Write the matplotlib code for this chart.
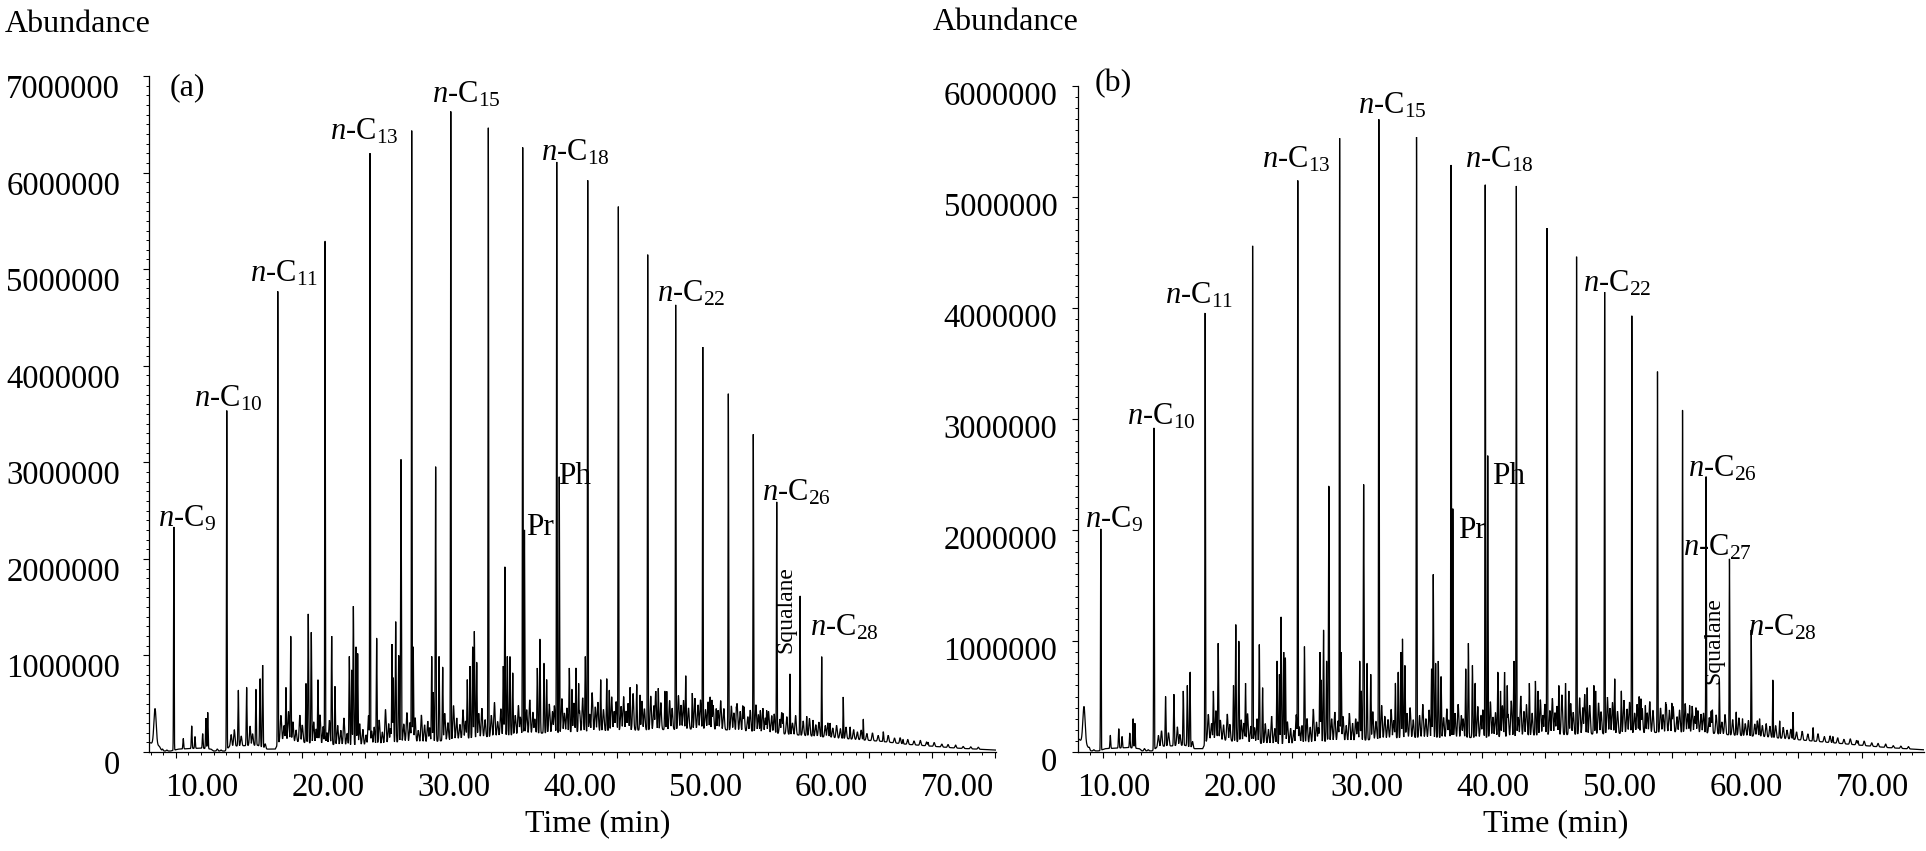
import numpy as np
import matplotlib
matplotlib.use("Agg")
import matplotlib.pyplot as plt
from matplotlib.ticker import MultipleLocator, NullFormatter
from matplotlib.transforms import ScaledTranslation, blended_transform_factory

W, H, DPI = 1926, 851, 100

plt.rcParams['font.family'] = ['Liberation Serif', 'DejaVu Serif']
plt.rcParams['mathtext.fontset'] = 'custom'
plt.rcParams['mathtext.rm'] = 'Liberation Serif'
plt.rcParams['mathtext.it'] = 'Liberation Serif:italic'

# ------------------------------------------------------------------ data
# retention times in minutes, abundances in millions
peak_names = ['C9', 'C10', 'C11', 'C12', 'C13', 'C14', 'C15', 'C16', 'C17', 'Pr',
              'C18', 'Ph', 'C19', 'C20', 'C21', 'C22', 'C23', 'C24', 'C25', 'C26',
              'Squalane', 'C27', 'C28', 'C29', 'C30']
peak_times = [9.85, 14.05, 18.10, 21.85, 25.42, 28.73, 31.83, 34.81, 37.54, 37.68,
              40.24, 40.44, 42.70, 45.13, 47.46, 49.68, 51.83, 53.86, 55.84, 57.70,
              58.75, 59.55, 61.27, 62.98, 64.57]
peak_height_a = [2.34, 3.55, 4.77, 5.31, 6.20, 6.46, 6.66, 6.49, 6.26, 2.30,
                 6.11, 2.85, 5.92, 5.67, 5.15, 4.63, 4.21, 3.71, 3.29, 2.59,
                 0.81, 1.62, 0.99, 0.57, 0.34]
peak_height_b = [2.01, 2.92, 3.97, 4.56, 5.17, 5.53, 5.70, 5.54, 5.31, 2.20,
                 5.13, 2.68, 5.12, 4.72, 4.48, 4.16, 3.93, 3.44, 3.09, 2.49,
                 0.66, 1.74, 1.10, 0.65, 0.36]

# solvent tail at the start
solvent_time_a = [8.36]
solvent_time_b = [8.52]
solvent_height_a = [0.45]
solvent_height_b = [0.41]

# other resolved peaks (absolute tops)
minor_times = [10.6, 11.27, 11.53, 12.14, 12.40, 12.54,
               14.97, 15.63, 16.37, 16.69, 16.90,
               18.75, 19.13, 20.34, 20.52, 20.76, 21.29,
               22.38, 22.64, 23.78, 23.97, 24.10, 24.31, 24.44,
               25.95, 27.17, 27.27, 27.46, 27.70, 27.88,
               28.85, 30.32, 30.44, 30.63, 30.90, 31.19,
               33.14, 33.36, 33.57, 33.70, 33.89,
               36.00, 36.13, 36.32, 36.53, 36.75,
               38.70, 38.91, 39.23, 39.44,
               41.24, 41.45, 41.77, 41.98, 42.51,
               43.73, 44.21, 44.41, 46.06, 46.59, 46.85,
               48.30, 48.83, 48.97, 50.48, 51.00, 52.41,
               52.55, 52.90, 54.50, 55.00, 56.40, 56.90, 58.20,
               60.08, 60.58, 61.93, 63.52, 66.16, 67.72, 69.71]
minor_height_a = [0.14, 0.27, 0.16, 0.19, 0.35, 0.41,
                  0.64, 0.67, 0.65, 0.76, 0.90,
                  0.67, 1.20, 0.71, 1.43, 1.24, 0.75,
                  1.20, 0.68, 0.99, 0.85, 1.51, 1.09, 1.02,
                  1.18, 1.12, 0.77, 1.35, 1.00, 3.03,
                  1.09, 0.99, 0.62, 2.96, 0.99, 0.88,
                  0.75, 0.89, 1.09, 1.25, 0.93,
                  0.89, 1.92, 0.99, 0.99, 0.82,
                  0.87, 1.17, 0.92, 0.75,
                  0.87, 0.65, 0.87, 0.71, 0.99,
                  0.75, 0.76, 0.64, 0.67, 0.70, 0.59,
                  0.66, 0.63, 0.63, 0.79, 0.61, 0.57,
                  0.54, 0.45, 0.47, 0.48, 0.43, 0.43, 0.40,
                  0.37, 0.33, 0.30, 0.26, 0.21, 0.13, 0.10]
minor_height_b = [0.15, 0.21, 0.14, 0.17, 0.30, 0.26,
                  0.50, 0.52, 0.55, 0.60, 0.72,
                  0.55, 0.98, 0.60, 1.15, 1.00, 0.62,
                  0.97, 0.58, 0.82, 0.70, 1.22, 0.90, 0.85,
                  0.95, 0.90, 0.65, 1.10, 0.82, 2.40,
                  0.90, 0.82, 0.55, 2.41, 0.80, 0.70,
                  0.62, 0.72, 0.90, 1.02, 0.78,
                  0.75, 1.60, 0.80, 0.82, 0.68,
                  0.75, 0.98, 0.78, 0.62,
                  0.72, 0.55, 0.72, 0.60, 0.82,
                  0.62, 0.64, 0.55, 0.60, 0.62, 0.55,
                  0.58, 0.60, 0.55, 0.66, 0.55, 0.50,
                  0.48, 0.42, 0.45, 0.44, 0.42, 0.40, 0.38,
                  0.36, 0.30, 0.30, 0.28, 0.22, 0.14, 0.10]

# small unresolved peaks (height above the baseline)
grass_times = [14.4, 14.65, 15.2, 15.9, 16.1, 17.1, 18.35, 18.6, 18.95, 19.3,
               19.55, 19.85, 20.05, 20.95, 21.15, 21.45, 21.7, 22.0, 22.2, 22.85,
               23.1, 23.35, 23.6, 24.6, 24.85, 25.1, 25.3, 25.55, 25.75, 26.15,
               26.4, 26.65, 26.9, 27.05, 28.1, 28.35, 28.6, 29.0, 29.25, 29.5,
               29.75, 30.0, 30.15, 31.35, 31.6, 32.05, 32.3, 32.55, 32.8, 33.0,
               34.05, 34.3, 34.55, 35.05, 35.3, 35.55, 35.8, 36.95, 37.2, 37.35,
               37.85, 38.1, 38.35, 38.5, 39.65, 39.9, 40.05, 40.65, 40.85, 41.05,
               41.6, 42.05, 42.3, 42.85, 43.05, 43.3, 43.5, 43.95, 44.6, 44.8,
               44.95, 45.35, 45.55, 45.75, 45.9, 46.3, 47.0, 47.2, 47.7, 47.95,
               48.1, 48.5, 49.2, 49.4, 49.9, 50.1, 50.3, 50.7, 51.2, 51.45,
               51.65, 52.05, 52.25, 52.65, 53.05, 53.25, 53.5, 54.1, 54.3, 54.55,
               54.8, 55.1, 55.4, 55.6, 56.05, 56.25, 56.6, 56.8, 57.05, 57.3,
               57.5, 57.95, 58.1, 58.5, 58.95, 59.2, 59.8, 60.3, 60.8, 61.05,
               61.55, 61.75, 62.15, 62.45, 62.75, 63.2, 63.8, 64.1, 64.4, 64.85,
               65.3, 65.75, 66.55, 67.05, 67.5, 68.1, 68.6, 69.1, 69.6, 70.2,
               70.8, 71.3, 71.9, 72.5, 73.1, 73.7, 8.95, 9.3, 13.3, 13.6]
grass_amp_a = [.12, .17, .10, .20, .12, .05, .25, .15, .30, .20,
               .12, .28, .18, .22, .15, .30, .18, .12, .25, .20,
               .15, .28, .12, .22, .16, .10, .30, .14, .18, .25,
               .12, .35, .20, .15, .18, .30, .20, .25, .12, .28,
               .18, .22, .15, .28, .18, .35, .22, .15, .30, .18,
               .25, .30, .18, .22, .35, .15, .28, .20, .30, .18,
               .25, .35, .22, .15, .30, .22, .28, .35, .20, .25,
               .30, .22, .35, .18, .40, .25, .30, .22, .35, .20,
               .30, .25, .35, .20, .28, .38, .30, .22, .35, .25,
               .40, .28, .30, .22, .35, .25, .30, .22, .32, .25,
               .30, .20, .28, .25, .20, .30, .22, .25, .18, .28,
               .20, .25, .15, .22, .28, .18, .25, .15, .22, .18,
               .20, .15, .22, .18, .12, .20, .15, .18, .12, .15,
               .12, .15, .10, .13, .10, .12, .10, .08, .10, .07,
               .08, .06, .07, .05, .06, .05, .04, .05, .04, .04,
               .03, .03, .03, .02, .02, .02, .02, .01, .02, .01]
grass_amp_b = [.10, .14, .12, .17, .10, .06, .22, .14, .26, .18,
               .14, .24, .15, .20, .17, .26, .15, .14, .22, .18,
               .13, .25, .14, .20, .14, .12, .26, .15, .16, .22,
               .14, .30, .18, .13, .20, .26, .18, .22, .14, .25,
               .16, .20, .17, .25, .16, .30, .20, .17, .26, .16,
               .22, .27, .16, .20, .30, .17, .25, .18, .26, .16,
               .22, .30, .20, .17, .28, .20, .25, .32, .18, .22,
               .28, .20, .32, .17, .36, .22, .28, .20, .32, .18,
               .28, .22, .33, .20, .26, .36, .28, .20, .33, .24,
               .36, .26, .28, .20, .33, .23, .28, .20, .30, .22,
               .28, .18, .26, .22, .18, .28, .20, .22, .16, .25,
               .20, .23, .14, .20, .26, .17, .24, .15, .20, .17,
               .18, .14, .20, .17, .11, .18, .14, .16, .11, .14,
               .11, .14, .10, .12, .10, .11, .10, .08, .09, .07,
               .08, .06, .07, .05, .06, .05, .04, .05, .04, .04,
               .03, .03, .03, .02, .02, .02, .02, .01, .02, .01]

# baseline (unresolved hump)
base_time_a = [7.88, 8.7, 8.9, 9.6, 10.2, 12.0, 12.8, 13.0, 13.9, 14.3, 16.5, 17.2, 17.9,
               18.3, 20, 22, 24, 26, 28, 30, 32, 34, 36, 38, 40, 44, 48, 52, 55, 58,
               60, 62, 64, 66, 68, 70, 72, 75.1]
base_level_a = [0.10, 0.06, 0.01, 0.01, 0.03, 0.04, 0.03, 0.01, 0.01, 0.06, 0.07, 0.03, 0.03,
                0.13, 0.10, 0.08, 0.07, 0.08, 0.11, 0.10, 0.13, 0.15, 0.17, 0.19, 0.20, 0.22,
                0.23, 0.24, 0.22, 0.19, 0.17, 0.15, 0.13, 0.11, 0.08, 0.06, 0.04, 0.02]
base_time_b = [8.07, 8.8, 9.0, 9.7, 10.2, 12.0, 12.9, 13.1, 13.9, 14.4, 16.5, 17.2, 17.9,
               18.3, 20, 22, 24, 26, 28, 30, 32, 34, 36, 38, 40, 44, 48, 52, 55, 58,
               60, 62, 64, 66, 68, 70, 72, 74.9]
base_level_b = [0.12, 0.05, 0.01, 0.01, 0.03, 0.04, 0.03, 0.01, 0.01, 0.05, 0.06, 0.03, 0.03,
                0.12, 0.10, 0.08, 0.07, 0.08, 0.10, 0.10, 0.12, 0.13, 0.13, 0.13, 0.13, 0.15,
                0.16, 0.17, 0.18, 0.17, 0.15, 0.14, 0.12, 0.10, 0.08, 0.06, 0.04, 0.02]

time_ticks = [10, 20, 30, 40, 50, 60, 70]

# peak annotations: (text, time of left edge, baseline abundance in millions)
labels_a = [(r'$\mathit{n}$-C$_{9}$', 8.62, 2.33), (r'$\mathit{n}$-C$_{10}$', 11.43, 3.58),
            (r'$\mathit{n}$-C$_{11}$', 15.9, 4.87), (r'$\mathit{n}$-C$_{13}$', 22.25, 6.34),
            (r'$\mathit{n}$-C$_{15}$', 30.32, 6.73), (r'$\mathit{n}$-C$_{18}$', 39.0, 6.13),
            (r'$\mathit{n}$-C$_{22}$', 48.2, 4.66), (r'$\mathit{n}$-C$_{26}$', 56.5, 2.60),
            (r'$\mathit{n}$-C$_{28}$', 60.35, 1.21)]
labels_b = [(r'$\mathit{n}$-C$_{9}$', 8.6, 2.02), (r'$\mathit{n}$-C$_{10}$', 11.93, 2.95),
            (r'$\mathit{n}$-C$_{11}$', 14.9, 4.04), (r'$\mathit{n}$-C$_{13}$', 22.57, 5.27),
            (r'$\mathit{n}$-C$_{15}$', 30.2, 5.75), (r'$\mathit{n}$-C$_{18}$', 38.64, 5.27),
            (r'$\mathit{n}$-C$_{22}$', 48.0, 4.15), (r'$\mathit{n}$-C$_{26}$', 56.24, 2.48),
            (r'$\mathit{n}$-C$_{27}$', 55.85, 1.77), (r'$\mathit{n}$-C$_{28}$', 61.0, 1.05)]
iso_labels_a = [('Pr', 37.78, 2.25), ('Ph', 40.36, 2.78)]
iso_labels_b = [('Pr', 38.06, 1.93), ('Ph', 40.78, 2.41)]
squalane_a = (58.42, 1.48)
squalane_b = (58.3, 1.00)


# ------------------------------------------------------------------ drawing
def chromatogram(t, btime, blevel, groups):
    base = np.interp(t, btime, blevel)
    y = base.copy()
    for times, heights, sigma, absolute in groups:
        for tc, h in zip(times, heights):
            amp = h - np.interp(tc, btime, blevel) if absolute else h
            y = np.maximum(y, base + amp * np.exp(-0.5 * ((t - tc) / sigma) ** 2))
    return y * 1e6


fig = plt.figure(figsize=(W / DPI, H / DPI), dpi=DPI)


def px(x, y):
    return x / W, 1 - y / H


def panel(rect, xlim, ymax, btime, blevel, peaks, solvent_t, solvent_h, minor, grass,
          xlab_dx, ylab_gap, ylab_dy, labels, iso, squal, tag, tag_xy, abund_xy, time_xy):
    ax = fig.add_axes(rect)
    t = np.arange(xlim[0], xlim[1], 0.004)
    y = chromatogram(t, btime, blevel, [
        (solvent_t, solvent_h, 0.09, True),
        (grass_times, grass, 0.05, False),
        (minor_times, minor, 0.03, True),
        (peak_times, peaks, 0.022, True),
    ])
    ax.plot(t, y, color='black', lw=0.9, solid_joinstyle='miter')
    ax.set_xlim(*xlim)
    ax.set_ylim(0, ymax)
    for s in ('top', 'right'):
        ax.spines[s].set_visible(False)
    for s in ('left', 'bottom'):
        ax.spines[s].set_linewidth(0.9)
    ax.xaxis.set_major_locator(MultipleLocator(5))
    ax.xaxis.set_minor_locator(MultipleLocator(1))
    ax.yaxis.set_major_locator(MultipleLocator(1e6))
    ax.yaxis.set_minor_locator(MultipleLocator(1e5))
    ax.tick_params(which='major', length=4.5, width=0.8, labelbottom=False, labelleft=False)
    ax.tick_params(which='minor', length=2.3, width=0.7)
    ax.xaxis.set_minor_formatter(NullFormatter())

    trx = blended_transform_factory(ax.transData, ax.transAxes) + \
        ScaledTranslation(xlab_dx / DPI, -44 / DPI, fig.dpi_scale_trans)
    for v in time_ticks:
        ax.text(v, 0, f'{v:.2f}', transform=trx, ha='center', va='baseline',
                fontsize=23.5, clip_on=False)
    try_ = blended_transform_factory(ax.transAxes, ax.transData) + \
        ScaledTranslation(-ylab_gap / DPI, -ylab_dy / DPI, fig.dpi_scale_trans)
    for v in np.arange(0, ymax + 1, 1e6):
        ax.text(0, v, f'{int(v)}', transform=try_, ha='right', va='baseline',
                fontsize=23.5, clip_on=False)

    for txt, tx, ty in labels:
        ax.text(tx, ty * 1e6, txt, ha='left', va='baseline', fontsize=22)
    for txt, tx, ty in iso:
        ax.text(tx, ty * 1e6, txt, ha='left', va='baseline', fontsize=22.5)
    ax.text(squal[0], squal[1] * 1e6, 'Squalane', rotation=90, ha='center', va='center',
            fontsize=17)

    fig.text(*px(*tag_xy), tag, ha='left', va='center', fontsize=23)
    fig.text(*px(*abund_xy), 'Abundance', ha='left', va='baseline', fontsize=23)
    fig.text(*px(*time_xy), 'Time (min)', ha='center', va='center', fontsize=23)
    return ax


panel([149 / W, 99 / H, (995.7 - 149) / W, (752 - 76) / H], (7.88, 75.08), 7e6,
      base_time_a, base_level_a, peak_height_a, solvent_time_a, solvent_height_a,
      minor_height_a, grass_amp_a, 26, 29, 22, labels_a, iso_labels_a, squalane_a,
      '(a)', (170, 87.5), (5, 31.5), (598, 824))
panel([1078.3 / W, 99 / H, (1923.5 - 1078.3) / W, (752 - 86) / H], (8.07, 74.89), 6e6,
      base_time_b, base_level_b, peak_height_b, solvent_time_b, solvent_height_b,
      minor_height_b, grass_amp_b, 11, 21, 19, labels_b, iso_labels_b, squalane_b,
      '(b)', (1095, 84), (933, 29.5), (1556, 824))

fig.savefig('out.png', dpi=DPI)
